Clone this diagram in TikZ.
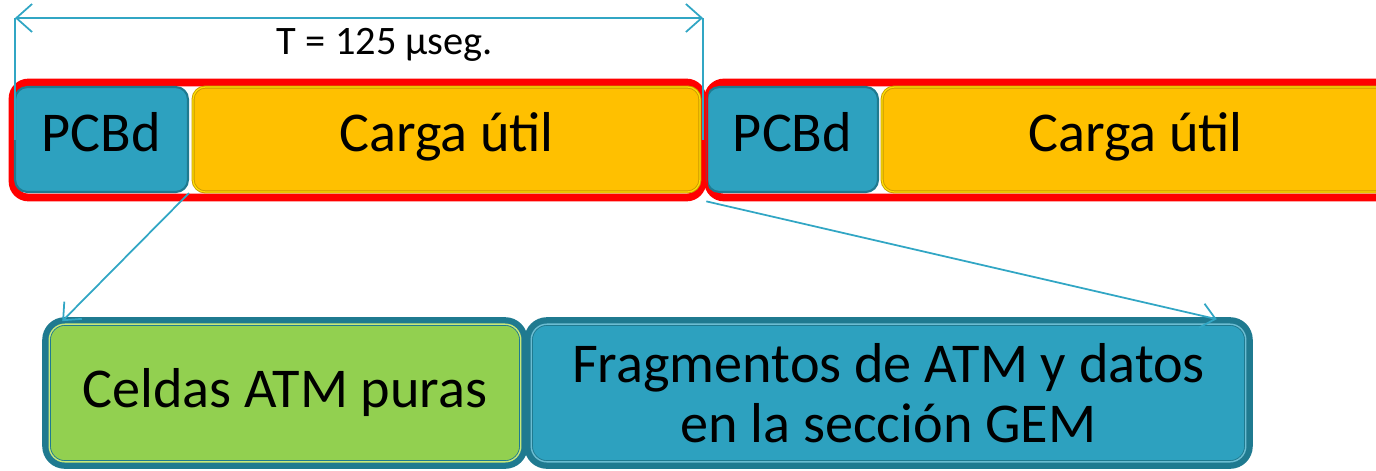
\documentclass[tikz,border=0pt]{standalone}
\usepackage{fontspec}
\setmainfont{Carlito}
\usetikzlibrary{arrows.meta}
\definecolor{pcbblue}{HTML}{2DA1BF}
\definecolor{pcbdark}{HTML}{1F7A90}
\definecolor{cargaorange}{HTML}{FFC000}
\definecolor{cargadark}{HTML}{C89A00}
\definecolor{celdagreen}{HTML}{92D050}
\definecolor{celdalight}{HTML}{C8E87A}
\definecolor{linkblue}{HTML}{31A6C4}
\tikzstyle{frame}=[rectangle,draw=red,line width=4.4pt,rounded corners=9pt,inner sep=0pt]
\tikzstyle{field}=[rectangle,rounded corners=7pt,inner sep=0pt,font=\fontsize{32}{34}\selectfont,text height=21pt,text depth=7pt]

\begin{document}
\begin{tikzpicture}[x=0.02cm,y=-0.02cm]
    \tikzstyle{pcbd}=[field,fill=pcbblue,draw=pcbdark,line width=1.2pt]
    \tikzstyle{carga}=[field,fill=cargaorange,draw=cargadark,line width=0.5pt,double=yellow!60!cargaorange,double distance=0.7pt]
    \tikzstyle{part}=[field,rounded corners=11pt,draw=pcbdark,line width=3.8pt,align=center,text height=,text depth=]
    \tikzstyle{inset}=[draw=pcbdark,line width=0.5pt,double=celdalight,double distance=0.8pt,rounded corners=9pt]
    \tikzstyle{link}=[draw=linkblue,line width=1pt,-{Straight Barb[length=8pt,width=14pt]}]
    \useasboundingbox (0,0) rectangle (1376,470);
    % frames
    \node[frame,minimum width=13.8cm,minimum height=2.3cm] (frame1) at (357.5,140) {};
    \node[frame,minimum width=14.24cm,minimum height=2.3cm] (frame2) at (1064,140) {};
    \node[pcbd,minimum width=3.46cm,minimum height=2.1cm] (pcbd1) at (101.5,139.5) {PCBd};
    \node[carga,minimum width=10.14cm,minimum height=2.1cm] (carga1) at (446.5,139.5) {Carga útil};
    \node[pcbd,minimum width=3.42cm,minimum height=2.1cm] (pcbd2) at (792.5,139.5) {PCBd};
    \node[carga,minimum width=10.14cm,minimum height=2.1cm] (carga2) at (1135.5,139.5) {Carga útil};
    \foreach \f in {frame1,frame2}
        \draw[red,line width=1pt,rounded corners=7pt] ([shift={(3,4)}]\f.north west) rectangle ([shift={(-3,-4)}]\f.south east);
    % period
    \coordinate (tl) at (15,18);
    \coordinate (tr) at (703,18);
    \coordinate (bl) at (15,140);
    \coordinate (br) at (703,140);
    \draw[linkblue,line width=1pt] (tl) -- (bl);
    \draw[linkblue,line width=1pt] (tr) -- (br);
    \draw[linkblue,line width=1pt,{Straight Barb[length=9pt,width=16pt]}-{Straight Barb[length=9pt,width=16pt]}] (tl) -- (tr);
    \node[font=\fontsize{23}{26}\selectfont] (period) at (385,45) {T = 125 µseg.};
    % payload
    \node[part,fill=celdagreen,minimum width=9.58cm,minimum height=2.9cm] (celdas) at (285,393) {Celdas ATM puras};
    \node[part,fill=pcbblue,minimum width=14.44cm,minimum height=2.9cm] (frag) at (888.5,393) {Fragmentos de ATM y datos\\en la sección GEM};
    \draw[inset] ([shift={(7,7)}]celdas.north west) rectangle ([shift={(-7,-7)}]celdas.south east);
    \draw[inset,double=pcbblue!70!white] ([shift={(7,7)}]frag.north west) rectangle ([shift={(-7,-7)}]frag.south east);
    \draw[link] (pcbd1.south east) -- ([shift={(20,4)}]celdas.north west);
    \draw[link] (frame1.south east) -- ([shift={(-36,2)}]frag.north east);
\end{tikzpicture}
\end{document}
